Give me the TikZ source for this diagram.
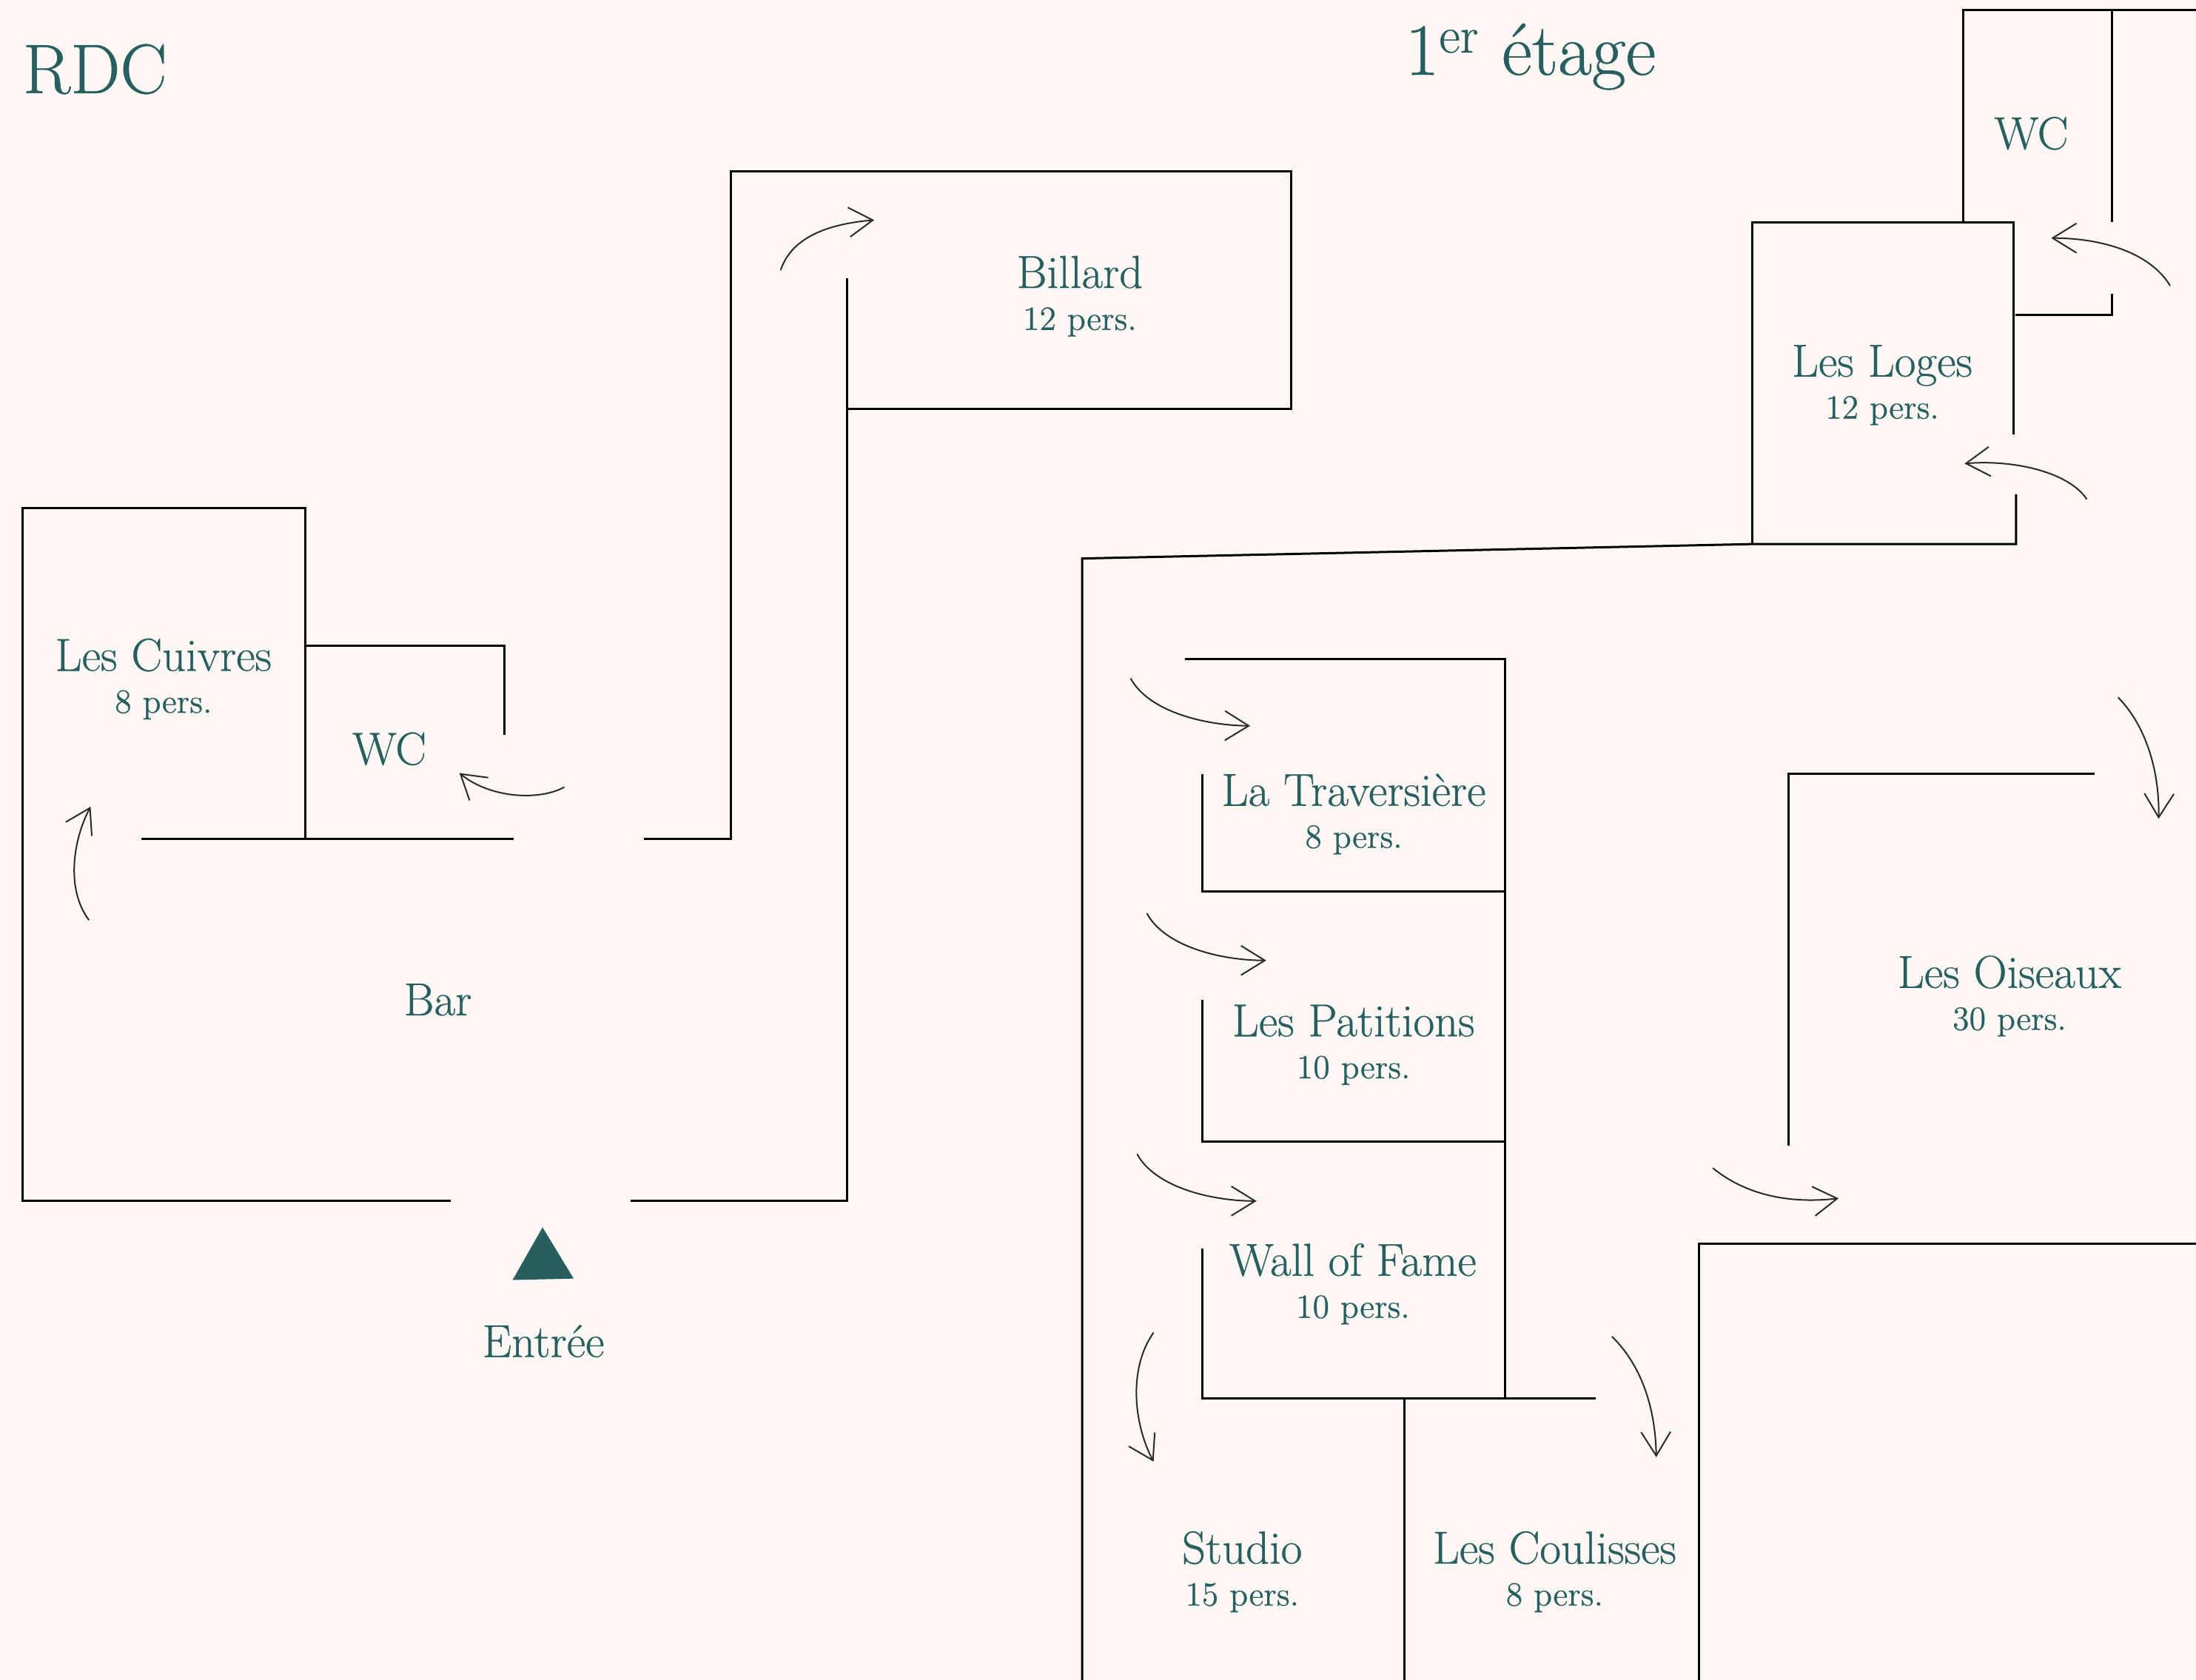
\documentclass[tikz,border=0pt]{standalone}
\usepackage{fontspec}
\newfontfamily\planfont{Latin Modern Roman}[FakeBold=0.5]
\usepackage{tikz}
\usetikzlibrary{positioning,arrows.meta}

\definecolor{planteal}{HTML}{275F61}
\definecolor{planbg}{HTML}{FEF7F4}
\definecolor{inkgrey}{HTML}{2A2A2A}

\begin{document}
\begin{tikzpicture}[
    x=0.2mm, y=-0.2mm,
    % Walls
    wall/.style={
        draw=black,
        line width=0.9pt
    },
    % Door arrows
    door arrow/.style={
        draw=inkgrey,
        line width=0.6pt,
        -{Straight Barb[length=3.4mm,width=4.2mm]}
    },
    % Room names
    room/.style={
        text=planteal,
        anchor=base,
        inner sep=0pt,
        font=\planfont\fontsize{18.8}{22}\selectfont
    },
    % Capacity
    pers/.style={
        text=planteal,
        anchor=base,
        inner sep=0pt,
        font=\planfont\fontsize{13.8}{16}\selectfont
    },
    % Floor titles
    title/.style={
        text=planteal,
        anchor=base west,
        inner sep=0pt,
        font=\planfont\fontsize{28.5}{32}\selectfont
    }
]

% Background
\fill[planbg] (0,0) rectangle (1568,1199.6);
\useasboundingbox (0,0) rectangle (1568,1199.6);

% Floor titles
\node[title] (rdc) at (16,66.5) {RDC};
\node[title, font=\planfont\fontsize{30}{34}\selectfont] (etage) at (1003,53.4) {1\textsuperscript{er} étage};

% RDC walls
\draw[wall] (218,599) -- (218,363) -- (16,363) -- (16,857.5) -- (322,857.5);
\draw[wall] (450,857.5) -- (604.7,857.5) -- (604.7,198.7);
\draw[wall] (101,599) -- (367,599);
\draw[wall] (218,461) -- (360,461) -- (360,525);
\draw[wall] (460,599) -- (522,599) -- (522,122.4) -- (921.8,122.4) -- (921.8,291.9) -- (604.7,291.9);

% RDC doors
\draw[door arrow] (63.5,657) .. controls (47,635) and (52,600) .. (64.7,576);
\draw[door arrow] (403,562) .. controls (385,572) and (350,570) .. (328,552);
\draw[door arrow] (557.4,192.9) .. controls (565,170) and (590,160) .. (624.2,157.1);

% Entrance
\fill[planteal] (387.4,876.4) -- (409.6,913) -- (366,914) -- cycle;

% RDC rooms
\node[room] (cuivres) at (116.7,479) {Les Cuivres};
\node[below=6mm of cuivres.base, pers] (cuivres-pers) {8 pers.};
\node[room] (wc-rdc) at (278,546) {WC};
\node[room] (bar) at (312.6,725) {Bar};
\node[room] (entree) at (388,969) {Entrée};
\node[room] (billard) at (771,205.6) {Billard};
\node[below=6mm of billard.base, pers] (billard-pers) {12 pers.};

% 1er etage walls
\draw[wall] (772.7,1199.6) -- (772.7,398.8) -- (1251,388.5) -- (1439.5,388.5) -- (1439.5,353);
\draw[wall] (1251,388.5) -- (1251,159) -- (1437.5,159) -- (1437.5,310);
\draw[wall] (1401.7,159) -- (1401.7,7.3) -- (1568,7.3);
\draw[wall] (1508,7.3) -- (1508,158.6);
\draw[wall] (1508,209.8) -- (1508,224.6) -- (1439,224.6);
\draw[wall] (846.2,470.4) -- (1074.6,470.4) -- (1074.6,998.8);
\draw[wall] (858.6,552.9) -- (858.6,636.7) -- (1074.6,636.7);
\draw[wall] (858.6,713.7) -- (858.6,815) -- (1074.6,815);
\draw[wall] (858.6,891.6) -- (858.6,998.8) -- (1139.3,998.8);
\draw[wall] (1003,998.8) -- (1003,1199.6);
\draw[wall] (1495.6,552.7) -- (1276.9,552.7) -- (1276.9,818.3);
\draw[wall] (1213.2,1199.6) -- (1213.2,888) -- (1568,888);

% 1er etage doors
\draw[door arrow] (1549.5,204) .. controls (1535,180) and (1500,170) .. (1464.6,170);
\draw[door arrow] (1490,356.5) .. controls (1478,338) and (1440,328) .. (1402.8,331);
\draw[door arrow] (807.3,484.4) .. controls (820,508) and (860,518) .. (892.6,518.3);
\draw[door arrow] (818.9,652.2) .. controls (831.6,675.8) and (871.6,685.8) .. (904.1,685.8);
\draw[door arrow] (811.9,824) .. controls (824.6,847.6) and (864.6,857.6) .. (897.2,857.6);
\draw[door arrow] (823.7,951.5) .. controls (805,978) and (810,1018) .. (823.7,1043.7);
\draw[door arrow] (1151,954.4) .. controls (1172,975) and (1182,1005) .. (1182.6,1040.5);
\draw[door arrow] (1512.4,498) .. controls (1532,518) and (1542,550) .. (1541.3,584.7);
\draw[door arrow] (1223,834.1) .. controls (1245,852) and (1275,860) .. (1312.8,855.7);

% 1er etage rooms
\node[room] (wc-etage) at (1450.4,106.5) {WC};
\node[room] (loges) at (1343.9,268.9) {Les Loges};
\node[below=6mm of loges.base, pers] (loges-pers) {12 pers.};
\node[room] (traversiere) at (966.6,575.4) {La Traversière};
\node[below=6mm of traversiere.base, pers] (traversiere-pers) {8 pers.};
\node[room] (patitions) at (966.4,740) {Les Patitions};
\node[below=6mm of patitions.base, pers] (patitions-pers) {10 pers.};
\node[room] (fame) at (966,911) {Wall of Fame};
\node[below=6mm of fame.base, pers] (fame-pers) {10 pers.};
\node[room] (studio) at (886.9,1116.5) {Studio};
\node[below=6mm of studio.base, pers] (studio-pers) {15 pers.};
\node[room] (coulisses) at (1110,1116.5) {Les Coulisses};
\node[below=6mm of coulisses.base, pers] (coulisses-pers) {8 pers.};
\node[room] (oiseaux) at (1434.8,705.4) {Les Oiseaux};
\node[below=6mm of oiseaux.base, pers] (oiseaux-pers) {30 pers.};

\end{tikzpicture}
\end{document}
